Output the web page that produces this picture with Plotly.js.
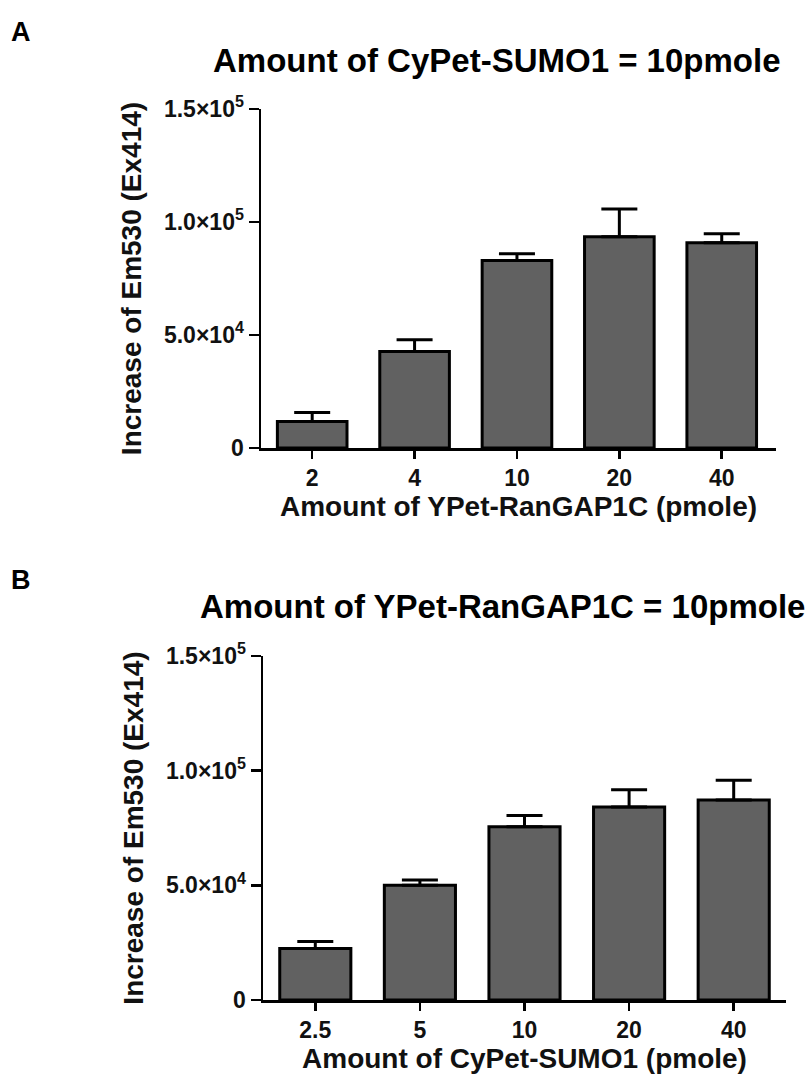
<!DOCTYPE html>
<html>
<head>
<meta charset="utf-8">
<script src="https://cdn.plot.ly/plotly-3.0.1.min.js"></script>
<style>html,body{margin:0;padding:0;background:#fff;}#chart{width:806px;height:1084px;}</style>
</head>
<body>
<div id="chart"></div>
<script>
// Panel A: varying YPet-RanGAP1C, CyPet-SUMO1 fixed at 10 pmole
const categoriesA = ["2", "4", "10", "20", "40"];
const valuesA = [11700, 42700, 83000, 93500, 90800];
const errorsA = [4000, 5200, 3000, 12300, 4000];

// Panel B: varying CyPet-SUMO1, YPet-RanGAP1C fixed at 10 pmole
const categoriesB = ["2.5", "5", "10", "20", "40"];
const valuesB = [22500, 50000, 75500, 84200, 87200];
const errorsB = [3000, 2300, 5000, 7500, 8600];

const yTickVals = [0, 50000, 100000, 150000];
const yTickText = ["0", "5.0×10<sup>4</sup>", "1.0×10<sup>5</sup>", "1.5×10<sup>5</sup>"];

const titleA = "Amount of CyPet-SUMO1 = 10pmole";
const titleB = "Amount of YPet-RanGAP1C = 10pmole";
const xTitleA = "Amount of YPet-RanGAP1C (pmole)";
const xTitleB = "Amount of CyPet-SUMO1 (pmole)";
const yTitle = "Increase of Em530 (Ex414)";

const FONT = "Liberation Sans, Arial, sans-serif";
const barColor = "#616161";

function barTrace(cats, vals, errs, xa, ya) {
  return {
    type: "bar",
    x: cats,
    y: vals,
    xaxis: xa,
    yaxis: ya,
    width: 0.68,
    marker: {color: barColor, line: {color: "#000", width: 3}},
    error_y: {
      type: "data", symmetric: false,
      array: errs, arrayminus: errs.map(() => 0),
      color: "#000", thickness: 3, width: 18
    },
    hoverinfo: "skip",
    showlegend: false
  };
}

const data = [
  barTrace(categoriesA, valuesA, errorsA, "x", "y"),
  barTrace(categoriesB, valuesB, errorsB, "x2", "y2")
];

function xAxis(domain, anchor, rangeR, title) {
  return {
    domain: domain, anchor: anchor, type: "category",
    range: [-0.5, rangeR],
    showline: true, linecolor: "#000", linewidth: 2.5,
    ticks: "outside", ticklen: 8, tickwidth: 2.5, tickcolor: "#000",
    tickfont: {family: FONT, size: 23, color: "#111", weight: "bold"},
    showgrid: false, zeroline: false, fixedrange: true,
    title: {text: title, font: {family: FONT, size: 28, color: "#111", weight: "bold"}, standoff: 6}
  };
}
function yAxis(domain, anchor) {
  return {
    domain: domain, anchor: anchor,
    range: [0, 150000],
    tickvals: yTickVals, ticktext: yTickText,
    showline: true, linecolor: "#000", linewidth: 2.5,
    ticks: "outside", ticklen: 10, tickwidth: 2.5, tickcolor: "#000",
    tickfont: {family: FONT, size: 23, color: "#111", weight: "bold"},
    showgrid: false, zeroline: false, fixedrange: true,
    title: {text: yTitle, font: {family: FONT, size: 28, color: "#111", weight: "bold"}, standoff: 14}
  };
}

const H = 1084, W = 806;
const layout = {
  width: W, height: H,
  margin: {l: 0, r: 0, t: 0, b: 0},
  paper_bgcolor: "#fff", plot_bgcolor: "#fff",
  bargap: 0.32,
  xaxis: xAxis([261/W, 776/W], "y", 4.53, xTitleA),
  yaxis: yAxis([(H-448)/H, (H-109)/H], "x"),
  xaxis2: xAxis([263/W, 786/W], "y2", 4.5, xTitleB),
  yaxis2: yAxis([(H-1000)/H, (H-656)/H], "x2"),
  annotations: [
    {text: "A", xref: "paper", yref: "paper", x: 9/W, y: (H-32)/H, xanchor: "left", yanchor: "middle", showarrow: false,
     font: {family: FONT, size: 27, color: "#000", weight: "bold"}},
    {text: "B", xref: "paper", yref: "paper", x: 9/W, y: (H-580)/H, xanchor: "left", yanchor: "middle", showarrow: false,
     font: {family: FONT, size: 27, color: "#000", weight: "bold"}},
    {text: titleA, xref: "paper", yref: "paper", x: 497/W, y: (H-60)/H, xanchor: "center", yanchor: "middle", showarrow: false,
     font: {family: FONT, size: 33, color: "#000", weight: "bold"}},
    {text: titleB, xref: "paper", yref: "paper", x: 502/W, y: (H-606)/H, xanchor: "center", yanchor: "middle", showarrow: false,
     font: {family: FONT, size: 33, color: "#000", weight: "bold"}}
  ]
};

Plotly.newPlot("chart", data, layout, {displayModeBar: false, staticPlot: true});
</script>
</body>
</html>
